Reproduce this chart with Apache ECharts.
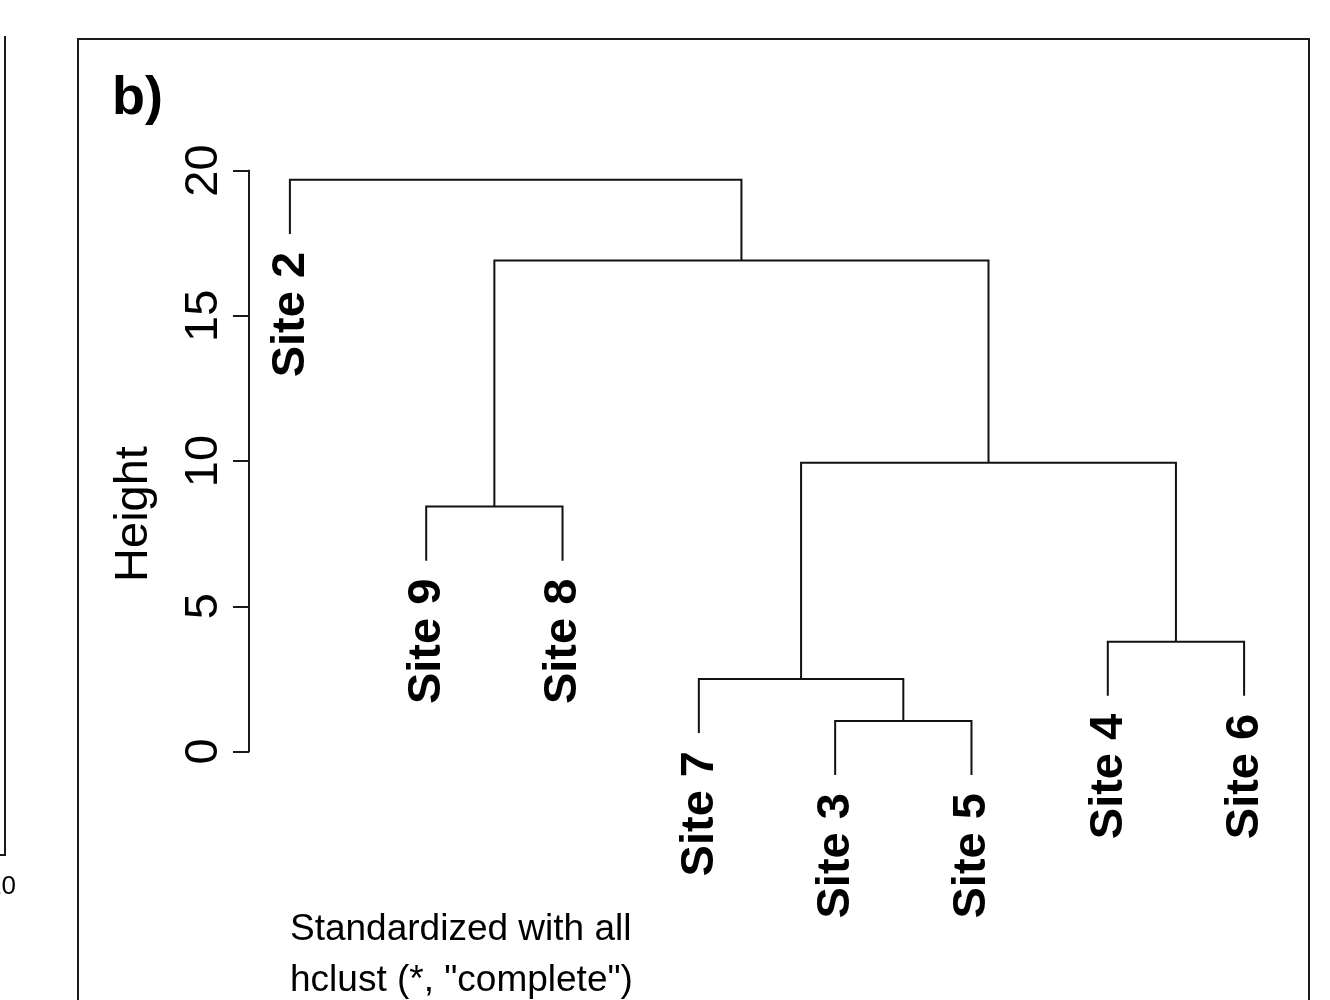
<!DOCTYPE html>
<html>
<head>
<meta charset="utf-8">
<script src="https://cdn.jsdelivr.net/npm/echarts@6/dist/echarts.min.js"></script>
<style>
html,body{margin:0;padding:0;background:#fff;}
#chart{width:1330px;height:1000px;}
</style>
</head>
<body>
<div id="chart"></div>
<script>
// ---- Data ----
var leafOrder = ['Site 2', 'Site 9', 'Site 8', 'Site 7', 'Site 3', 'Site 5', 'Site 4', 'Site 6'];
// Merge steps (hclust style): a child is a leaf name or the index of an earlier merge
var mergeLeft   = ['Site 3', 'Site 7', 'Site 4', 'Site 9', 1,    3,     'Site 2'];
var mergeRight  = ['Site 5', 0,        'Site 6', 'Site 8', 2,    4,     5];
var mergeHeight = [1.05,     2.50,     3.78,     8.43,     9.94, 16.90, 19.68];
var yTicks = [0, 5, 10, 15, 20];
var titleText = 'b)';
var yTitle = 'Height';
var subLines = ['Standardized with all', 'hclust (*, "complete")'];

// ---- Dendrogram layout (R plot.hclust rules: hang = 0.1 * range of heights) ----
var hang = 0.1 * (Math.max.apply(null, mergeHeight) - Math.min.apply(null, mergeHeight));
var nodeX = [], nodeY = [];
var segs = [];    // [xa, ya, xb, yb, h]
var leafEnds = []; // [x, y, name]
function childPos(c, h) {
  if (typeof c === 'string') {
    var x = leafOrder.indexOf(c) + 1;
    var y = h - hang;
    leafEnds.push([x, y, c]);
    return [x, y];
  }
  return [nodeX[c], nodeY[c]];
}
for (var i = 0; i < mergeHeight.length; i++) {
  var h = mergeHeight[i];
  var a = childPos(mergeLeft[i], h);
  var b = childPos(mergeRight[i], h);
  nodeX[i] = (a[0] + b[0]) / 2;
  nodeY[i] = h;
  segs.push([a[0], a[1], b[0], b[1], h]);
}

var FONT = '"Liberation Sans", Arial, Helvetica, sans-serif';
var chart = echarts.init(document.getElementById('chart'));
chart.setOption({
  animation: false,
  backgroundColor: '#ffffff',
  grid: {left: 249, right: 45, top: 170.5, bottom: 248.5, containLabel: false},
  xAxis: {type: 'value', min: 0.7, max: 8.3, show: false},
  yAxis: {
    type: 'value', min: 0, max: 20, interval: 5,
    axisLine: {show: true, lineStyle: {color: '#1a1a1a', width: 2}},
    axisTick: {show: true, length: 16, lineStyle: {color: '#1a1a1a', width: 2}},
    splitLine: {show: false},
    axisLabel: {
      rotate: 90, margin: 21, fontSize: 47, color: '#000', fontFamily: FONT,
      formatter: function (v) { return yTicks.indexOf(v) >= 0 ? String(v) : ''; }
    }
  },
  graphic: [
    {type: 'rect', shape: {x: 78, y: 39, width: 1231, height: 1000}, style: {fill: 'none', stroke: '#1a1a1a', lineWidth: 2}},
    {type: 'polyline', shape: {points: [[5, 36], [5, 855], [0, 855]]}, style: {fill: 'none', stroke: '#1a1a1a', lineWidth: 2}},
    {type: 'text', x: 16, y: 887, style: {text: '10', font: '26px ' + FONT, fill: '#000', align: 'right', verticalAlign: 'middle'}},
    {type: 'text', x: 112, y: 99, style: {text: titleText, font: 'bold 54px ' + FONT, fill: '#000', align: 'left', verticalAlign: 'middle'}},
    {type: 'text', x: 134, y: 514, rotation: Math.PI / 2, style: {text: yTitle, font: '47px ' + FONT, fill: '#000', align: 'center', verticalAlign: 'middle'}},
    {type: 'text', x: 290, y: 930, style: {text: subLines[0], font: '37px ' + FONT, fill: '#000', align: 'left', verticalAlign: 'middle'}},
    {type: 'text', x: 290, y: 981, style: {text: subLines[1], font: '37px ' + FONT, fill: '#000', align: 'left', verticalAlign: 'middle'}}
  ],
  series: [
    {
      type: 'custom',
      clip: false,
      data: segs,
      encode: {x: [0, 2], y: [1, 3, 4]},
      renderItem: function (params, api) {
        var xa = api.value(0), ya = api.value(1), xb = api.value(2), yb = api.value(3), hh = api.value(4);
        var p1 = api.coord([xa, ya]), p2 = api.coord([xa, hh]), p3 = api.coord([xb, hh]), p4 = api.coord([xb, yb]);
        return {type: 'polyline', shape: {points: [p1, p2, p3, p4]}, style: {fill: 'none', stroke: '#111', lineWidth: 2}};
      }
    },
    {
      type: 'custom',
      clip: false,
      data: leafEnds,
      encode: {x: 0, y: 1},
      renderItem: function (params, api) {
        var p = api.coord([api.value(0), api.value(1)]);
        return {
          type: 'text', x: p[0] + 1, y: p[1] + 18, rotation: Math.PI / 2,
          style: {text: leafEnds[params.dataIndex][2], x: 0, y: 0, align: 'right', verticalAlign: 'middle', font: 'bold 47px ' + FONT, fill: '#000'}
        };
      }
    }
  ]
});
</script>
</body>
</html>
